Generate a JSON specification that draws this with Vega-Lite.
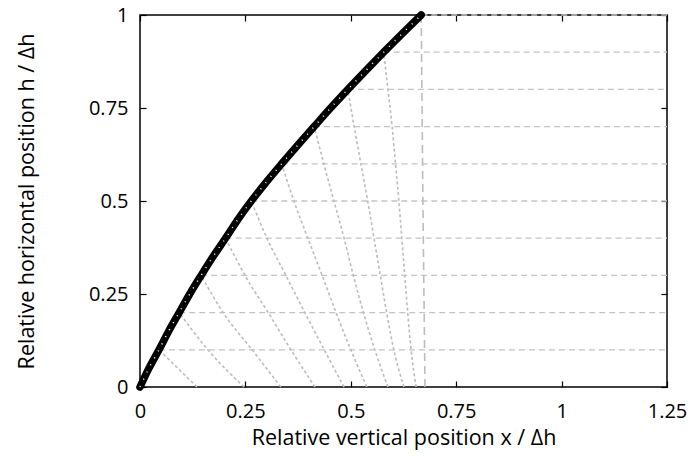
{
  "$schema": "https://vega.github.io/schema/vega-lite/v6.json",
  "width": 527,
  "height": 372,
  "autosize": {"type": "none"},
  "padding": {"left": 140, "top": 15, "right": 28, "bottom": 79},
  "background": "white",
  "config": {
    "view": {"stroke": "black", "strokeWidth": 1.5},
    "font": "Open Sans",
    "axis": {
      "domain": false,
      "grid": false,
      "tickColor": "black",
      "tickSize": -6,
      "tickWidth": 1.2,
      "labelFontSize": 20,
      "titleFontSize": 21.5,
      "titleFontWeight": "normal",
      "labelColor": "black",
      "titleColor": "black",
      "labelFont": "Open Sans",
      "titleFont": "Open Sans",
      "labelFlush": false
    }
  },
  "datasets": {
    "curve": [
      {"h": 0, "x": 0}, {"h": 0.05, "x": 0.021}, {"h": 0.1, "x": 0.045}, {"h": 0.15, "x": 0.068},
      {"h": 0.2, "x": 0.093}, {"h": 0.25, "x": 0.118}, {"h": 0.3, "x": 0.145}, {"h": 0.35, "x": 0.173},
      {"h": 0.4, "x": 0.203}, {"h": 0.45, "x": 0.232}, {"h": 0.5, "x": 0.264}, {"h": 0.55, "x": 0.299},
      {"h": 0.6, "x": 0.336}, {"h": 0.65, "x": 0.374}, {"h": 0.7, "x": 0.413}, {"h": 0.75, "x": 0.452},
      {"h": 0.8, "x": 0.493}, {"h": 0.85, "x": 0.535}, {"h": 0.9, "x": 0.578}, {"h": 0.95, "x": 0.622},
      {"h": 1.0, "x": 0.667}
    ],
    "levels": [
      {"h": 0.1, "x": 0.045}, {"h": 0.2, "x": 0.093}, {"h": 0.3, "x": 0.145}, {"h": 0.4, "x": 0.203},
      {"h": 0.5, "x": 0.264}, {"h": 0.6, "x": 0.336}, {"h": 0.7, "x": 0.413}, {"h": 0.8, "x": 0.493},
      {"h": 0.9, "x": 0.578}, {"h": 1.0, "x": 0.667}
    ],
    "waves": [
      {"line": 1, "h": 0.1, "x": 0.045}, {"line": 1, "h": 0.05, "x": 0.09}, {"line": 1, "h": 0, "x": 0.135},
      {"line": 2, "h": 0.2, "x": 0.093}, {"line": 2, "h": 0.1, "x": 0.161}, {"line": 2, "h": 0, "x": 0.247},
      {"line": 3, "h": 0.3, "x": 0.145}, {"line": 3, "h": 0.2, "x": 0.197}, {"line": 3, "h": 0.1, "x": 0.266}, {"line": 3, "h": 0, "x": 0.334},
      {"line": 4, "h": 0.4, "x": 0.203}, {"line": 4, "h": 0.3, "x": 0.249}, {"line": 4, "h": 0.2, "x": 0.304}, {"line": 4, "h": 0.1, "x": 0.358}, {"line": 4, "h": 0, "x": 0.415},
      {"line": 5, "h": 0.5, "x": 0.264}, {"line": 5, "h": 0.4, "x": 0.301}, {"line": 5, "h": 0.3, "x": 0.346}, {"line": 5, "h": 0.2, "x": 0.391}, {"line": 5, "h": 0.1, "x": 0.437}, {"line": 5, "h": 0, "x": 0.484},
      {"line": 6, "h": 0.6, "x": 0.336}, {"line": 6, "h": 0.5, "x": 0.365}, {"line": 6, "h": 0.4, "x": 0.398}, {"line": 6, "h": 0.3, "x": 0.432}, {"line": 6, "h": 0.2, "x": 0.465}, {"line": 6, "h": 0.1, "x": 0.5}, {"line": 6, "h": 0, "x": 0.538},
      {"line": 7, "h": 0.7, "x": 0.413}, {"line": 7, "h": 0.6, "x": 0.436}, {"line": 7, "h": 0.5, "x": 0.46}, {"line": 7, "h": 0.4, "x": 0.484}, {"line": 7, "h": 0.3, "x": 0.506}, {"line": 7, "h": 0.2, "x": 0.53}, {"line": 7, "h": 0.1, "x": 0.557}, {"line": 7, "h": 0, "x": 0.588},
      {"line": 8, "h": 0.8, "x": 0.493}, {"line": 8, "h": 0.7, "x": 0.508}, {"line": 8, "h": 0.6, "x": 0.524}, {"line": 8, "h": 0.5, "x": 0.54}, {"line": 8, "h": 0.4, "x": 0.555}, {"line": 8, "h": 0.3, "x": 0.57}, {"line": 8, "h": 0.2, "x": 0.585}, {"line": 8, "h": 0.1, "x": 0.602}, {"line": 8, "h": 0, "x": 0.626},
      {"line": 9, "h": 0.9, "x": 0.578}, {"line": 9, "h": 0.8, "x": 0.588}, {"line": 9, "h": 0.7, "x": 0.598}, {"line": 9, "h": 0.6, "x": 0.606}, {"line": 9, "h": 0.5, "x": 0.614}, {"line": 9, "h": 0.4, "x": 0.621}, {"line": 9, "h": 0.3, "x": 0.628}, {"line": 9, "h": 0.2, "x": 0.635}, {"line": 9, "h": 0.1, "x": 0.643}, {"line": 9, "h": 0, "x": 0.655},
      {"line": 10, "h": 1.0, "x": 0.667}, {"line": 10, "h": 0.5, "x": 0.671}, {"line": 10, "h": 0, "x": 0.676}
    ]
  },
  "resolve": {"axis": {"x": "independent", "y": "independent"}},
  "layer": [
    {
      "data": {"name": "levels"},
      "mark": {"type": "rule", "color": "#c4c4c4", "strokeWidth": 1.3, "strokeDash": [6, 4]},
      "encoding": {
        "x": {"field": "x", "type": "quantitative", "scale": {"domain": [0, 1.25], "nice": false},
          "axis": {"orient": "bottom", "values": [0, 0.25, 0.5, 0.75, 1, 1.25], "labelExpr": "format(datum.value, '~g')", "labelFlush": false, "labelFontSize": 20, "titleFontSize": 21.5, "labelPadding": 20, "titlePadding": 6, "title": "Relative vertical position x / Δh"}},
        "x2": {"datum": 1.25},
        "y": {"field": "h", "type": "quantitative", "scale": {"domain": [0, 1], "nice": false},
          "axis": {"orient": "left", "values": [0, 0.25, 0.5, 0.75, 1], "labelExpr": "format(datum.value, '~g')", "labelFlush": false, "labelFontSize": 20, "titleFontSize": 21.5, "labelPadding": 18, "titlePadding": 50, "title": "Relative horizontal position h / Δh"}}
      }
    },
    {
      "data": {"name": "waves"},
      "transform": [{"filter": "datum.line < 10"}],
      "mark": {"type": "line", "color": "#bcbcbc", "strokeWidth": 1.6, "strokeDash": [3, 2.5], "interpolate": "monotone"},
      "encoding": {
        "x": {"field": "x", "type": "quantitative", "axis": null},
        "y": {"field": "h", "type": "quantitative", "axis": null},
        "detail": {"field": "line"},
        "order": {"field": "h"}
      }
    },
    {
      "data": {"name": "waves"},
      "transform": [{"filter": "datum.line == 10"}],
      "mark": {"type": "line", "color": "#bcbcbc", "strokeWidth": 1.6, "strokeDash": [8, 5]},
      "encoding": {
        "x": {"field": "x", "type": "quantitative", "axis": null},
        "y": {"field": "h", "type": "quantitative", "axis": null},
        "order": {"field": "h"}
      }
    },
    {
      "data": {"name": "curve"},
      "mark": {"type": "line", "color": "black", "strokeWidth": 7.5, "strokeCap": "round", "interpolate": "monotone"},
      "encoding": {
        "x": {"field": "x", "type": "quantitative", "axis": null},
        "y": {"field": "h", "type": "quantitative", "axis": null},
        "order": {"field": "h"}
      }
    },
    {
      "data": {"name": "curve"},
      "mark": {"type": "line", "color": "white", "strokeWidth": 1.5, "strokeDash": [1, 7], "interpolate": "monotone"},
      "encoding": {
        "x": {"field": "x", "type": "quantitative",
          "axis": {"orient": "top", "values": [0, 0.25, 0.5, 0.75, 1, 1.25], "labels": false, "title": null}},
        "y": {"field": "h", "type": "quantitative",
          "axis": {"orient": "right", "values": [0, 0.25, 0.5, 0.75, 1], "labels": false, "title": null}},
        "order": {"field": "h"}
      }
    }
  ]
}
